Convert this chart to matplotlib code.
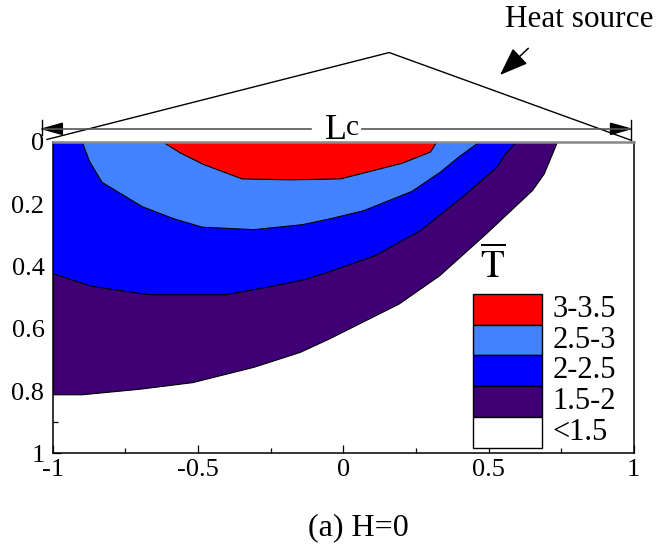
import numpy as np
import matplotlib
matplotlib.use("Agg")
import matplotlib.pyplot as plt
from matplotlib.patches import Rectangle, Polygon

plt.rcParams['font.family'] = ['Liberation Serif', 'DejaVu Serif']
plt.rcParams['mathtext.fontset'] = 'stix'

# contour lines (x, depth)
x15 = [-1.0, -0.90, -0.70, -0.52, -0.31, -0.15, -0.05, 0.19, 0.33, 0.49, 0.65, 0.69, 0.735]
y15 = [0.81, 0.81, 0.792, 0.771, 0.722, 0.674, 0.631, 0.519, 0.428, 0.294, 0.154, 0.101, 0.0]

x20 = [-1.0, -0.866, -0.671, -0.407, -0.264, -0.132, -0.046, 0.109, 0.264, 0.408, 0.528, 0.557, 0.594]
y20 = [0.422, 0.462, 0.489, 0.489, 0.465, 0.44, 0.414, 0.363, 0.283, 0.176, 0.079, 0.036, 0.0]

x25 = [-0.90, -0.874, -0.832, -0.694, -0.585, -0.487, -0.31, -0.143, -0.046, 0.069, 0.235, 0.333, 0.396, 0.465]
y25 = [0.0, 0.063, 0.128, 0.206, 0.245, 0.272, 0.28, 0.264, 0.245, 0.219, 0.157, 0.095, 0.047, 0.0]

x30 = [-0.62, -0.562, -0.482, -0.35, -0.183, -0.011, 0.20, 0.298, 0.319]
y30 = [0.0, 0.034, 0.071, 0.117, 0.12, 0.117, 0.067, 0.031, 0.0]

level_labels = ['3-3.5', '2.5-3', '2-2.5', '1.5-2', '<1.5']
level_colors = ['#ff0000', '#4282ff', '#0000ff', '#3f0076', '#ffffff']

x_ticks = [-1, -0.5, 0, 0.5, 1]
y_ticks = [0, 0.2, 0.4, 0.6, 0.8, 1]

fig = plt.figure(figsize=(6.58, 5.47), dpi=100)
ax = fig.add_axes([0.0802, 0.171, 0.883, 0.5695])

lines = [(x15, y15), (x20, y20), (x25, y25), (x30, y30)]
fills = level_colors[3::-1]  # purple, blue, light blue, red
for (xs, ys), c in zip(lines, fills):
    ax.fill_between(xs, 0, ys, facecolor=c, edgecolor='black', linewidth=0.8, zorder=1)

ax.set_xlim(-1, 1)
ax.set_ylim(1, 0)
ax.set_xticks(x_ticks)
ax.set_xticklabels(['-1', '-0.5', '0', '0.5', '1'])
ax.set_yticks(y_ticks)
ax.set_yticklabels(['0', '0.2', '0.4', '0.6', '0.8', '1'])
ax.set_xticks(np.arange(-0.75, 1, 0.5), minor=True)
ax.set_yticks(np.arange(0.1, 1, 0.2), minor=True)
ax.tick_params(which='both', direction='in', labelsize=19, width=0.9)
ax.tick_params(which='major', length=6, pad=4)
ax.tick_params(which='minor', length=3.5)
ax.tick_params(axis='y', pad=6)
ax.set_axisbelow(True)
for s in ['left', 'bottom', 'right']:
    ax.spines[s].set_linewidth(1.1)
ax.spines['top'].set_color('#888888')
ax.spines['top'].set_linewidth(1.8)

# heat source triangle and Lc dimension
ax.plot([-1.02, 0.158, 0.992], [-0.008, -0.287, -0.005], color='black', lw=1.0, clip_on=False)
yd = -0.042
ax.plot([-1.036, -0.112], [yd, yd], color='#555555', lw=1.2, clip_on=False)
ax.plot([0.064, 0.989], [yd, yd], color='#555555', lw=1.2, clip_on=False)
ax.plot([-1.036, -1.036], [-0.072, -0.021], color='black', lw=1.0, clip_on=False)
ax.plot([0.989, 0.989], [-0.072, 0.0], color='black', lw=1.0, clip_on=False)
ax.add_patch(Polygon([[-1.036, yd], [-0.967, yd - 0.018], [-0.967, yd + 0.018]],
                     closed=True, color='black', clip_on=False))
ax.add_patch(Polygon([[0.989, yd], [0.92, yd - 0.018], [0.92, yd + 0.018]],
                     closed=True, color='black', clip_on=False))
ax.text(-0.025, yd + 0.004, 'L', fontsize=26, ha='center', va='center')
ax.text(0.032, yd - 0.002, 'c', fontsize=21, ha='center', va='center')

fig.text(505 / 658, 1 - 26.7 / 547, 'Heat source', fontsize=22.5, ha='left', va='baseline')
fig.add_artist(matplotlib.patches.FancyArrowPatch(
    (528.3 / 658, 1 - 48.3 / 547), (500 / 658, 1 - 75 / 547), transform=fig.transFigure,
    arrowstyle='-|>,head_length=0.8,head_width=0.3', mutation_scale=22,
    color='black', lw=1.1, shrinkA=0, shrinkB=0))

# legend
bx0, bw, bh, btop = 473.3, 68.4, 30.7, 294.0
for i, (lab, c) in enumerate(zip(level_labels, level_colors)):
    y0 = btop + i * bh
    fig.add_artist(Rectangle((bx0 / 658, 1 - (y0 + bh) / 547), bw / 658, bh / 547,
                             transform=fig.transFigure, facecolor=c, edgecolor='black', lw=1.0))
    fig.text(552.7 / 658, 1 - (y0 + bh / 2) / 547, lab, fontsize=22, ha='left', va='center')
fig.text(492.5 / 658, 1 - 268 / 547, r'$\overline{\mathrm{T}}$', fontsize=28, ha='center', va='center')

fig.text(358 / 658, 1 - 535 / 547, '(a) H=0', fontsize=23, ha='center', va='baseline')

fig.savefig('out.png', dpi=100)
